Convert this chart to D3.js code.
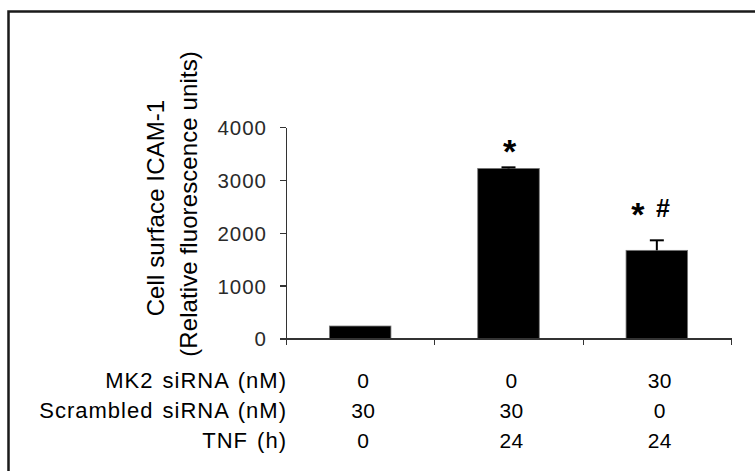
<!DOCTYPE html>
<meta charset="utf-8">
<style>
body { margin: 0; background: #fff; }
text { font-family: "Liberation Sans", Arial, sans-serif; }
.axis path, .axis line { stroke: #333; stroke-width: 1.3; shape-rendering: crispEdges; }
.axis text { font-size: 20.5px; fill: #2a2a2a; letter-spacing: 1px; font-family: "Liberation Sans", Arial, sans-serif; }
.bar { fill: #000; stroke: #777; stroke-width: 0.8; }
.err { stroke: #000; stroke-width: 2; fill: none; }
.rowlab { font-size: 22px; fill: #000; letter-spacing: 1px; word-spacing: 2px; }
.val { font-size: 21px; fill: #000; letter-spacing: 0.3px; }
.ytitle { font-size: 24px; fill: #000; letter-spacing: 0.1px; }
.mark { font-size: 34px; font-weight: bold; fill: #000; }
</style>
<body>
<script src="https://cdn.jsdelivr.net/npm/d3@7"></script>
<script>

// data
var groups = ["g1", "g2", "g3"];
var means = [236, 3217, 1667];
var errors = [0, 20, 190];
var yTicks = [0, 1000, 2000, 3000, 4000];

// condition table below the axis
var rowNames = ["MK2 siRNA (nM)", "Scrambled siRNA (nM)", "TNF (h)"];
var mk2 = ["0", "0", "30"];
var scrambled = ["30", "30", "0"];
var tnf = ["0", "24", "24"];

// significance marks (value = where the mark sits, in data units)
var starLevel = [null, 3600, 2410];
var hashLevel = [null, null, 2440];

var width = 755, height = 471;
var plot = {left: 286, right: 731, top: 127, bottom: 338.5};

var svg = d3.select("body").append("svg")
    .attr("width", width)
    .attr("height", height);

// outer frame (runs off the right and bottom of the picture)
svg.append("rect")
    .attr("x", 8.5).attr("y", 11.5)
    .attr("width", 800).attr("height", 500)
    .attr("fill", "none")
    .attr("stroke", "#1a1a1a")
    .attr("stroke-width", 2.5);

var x = d3.scaleBand()
    .domain(groups)
    .range([plot.left, plot.right])
    .paddingInner(0.585)
    .paddingOuter(0.2925);

var xEdge = d3.scaleLinear()
    .domain([0, groups.length])
    .range([plot.left, plot.right]);

var y = d3.scaleLinear()
    .domain([0, 4000])
    .range([plot.bottom, plot.top]);

// bars
svg.selectAll(".bar")
    .data(groups)
  .enter().append("rect")
    .attr("class", "bar")
    .attr("x", function(d) { return x(d); })
    .attr("width", x.bandwidth())
    .attr("y", function(d, i) { return y(means[i]); })
    .attr("height", function(d, i) { return y(0) - y(means[i]); });

// error bars (upper only)
var cx = function(d) { return x(d) + x.bandwidth() / 2; };
var withErr = groups.filter(function(d, i) { return errors[i] > 0; });
svg.selectAll(".errv")
    .data(withErr)
  .enter().append("line")
    .attr("class", "err")
    .attr("x1", cx).attr("x2", cx)
    .attr("y1", function(d) { return y(means[groups.indexOf(d)]); })
    .attr("y2", function(d) { var i = groups.indexOf(d); return y(means[i] + errors[i]); });
svg.selectAll(".errc")
    .data(withErr)
  .enter().append("line")
    .attr("class", "err")
    .attr("x1", function(d) { return cx(d) - 7; })
    .attr("x2", function(d) { return cx(d) + 7; })
    .attr("y1", function(d) { var i = groups.indexOf(d); return y(means[i] + errors[i]); })
    .attr("y2", function(d) { var i = groups.indexOf(d); return y(means[i] + errors[i]); });

// y axis
var yAxis = svg.append("g")
    .attr("class", "axis")
    .attr("transform", "translate(" + plot.left + ",0)")
    .call(d3.axisLeft(y).tickValues(yTicks).tickFormat(d3.format("d"))
      .tickSize(6).tickPadding(13).tickSizeOuter(0));
yAxis.selectAll("text").attr("dy", "0.36em");

// x axis: line with ticks at the group boundaries
svg.append("g")
    .attr("class", "axis")
    .attr("transform", "translate(0," + plot.bottom + ")")
    .call(d3.axisBottom(xEdge).tickValues(d3.range(groups.length + 1))
      .tickSize(6).tickSizeOuter(0).tickFormat(""));

// y axis title
svg.append("text")
    .attr("class", "ytitle")
    .attr("transform", "translate(164,208) rotate(-90)")
    .attr("text-anchor", "middle")
    .text("Cell surface ICAM-1");
svg.append("text")
    .attr("class", "ytitle")
    .attr("transform", "translate(197,204) rotate(-90)")
    .attr("text-anchor", "middle")
    .text("(Relative fluorescence units)");

// condition table
var rows = [mk2, scrambled, tnf];
var rowY = d3.scalePoint().domain(rowNames).range([388, 448]);
svg.selectAll(".rowlab")
    .data(rowNames)
  .enter().append("text")
    .attr("class", "rowlab")
    .attr("x", plot.left + 1)
    .attr("y", function(d) { return rowY(d); })
    .attr("text-anchor", "end")
    .text(function(d) { return d; });

rows.forEach(function(vals, r) {
  svg.selectAll(".val" + r)
      .data(vals)
    .enter().append("text")
      .attr("class", "val")
      .attr("x", function(d, i) { return cx(groups[i]) + 3; })
      .attr("y", rowY(rowNames[r]))
      .attr("text-anchor", "middle")
      .text(function(d) { return d; });
});

// significance marks
svg.selectAll(".star")
    .data(groups.filter(function(d, i) { return starLevel[i] != null; }))
  .enter().append("text")
    .attr("class", "mark")
    .attr("text-anchor", "middle")
    .attr("x", function(d) {
      var i = groups.indexOf(d);
      return cx(d) + (hashLevel[i] != null ? -19 : 1);
    })
    .attr("y", function(d) { return y(starLevel[groups.indexOf(d)]) + 15; })
    .text("*");

svg.selectAll(".hash")
    .data(groups.filter(function(d, i) { return hashLevel[i] != null; }))
  .enter().append("text")
    .attr("class", "mark")
    .style("font-size", "25px")
    .attr("text-anchor", "middle")
    .attr("x", function(d) { return cx(d) + 6; })
    .attr("y", function(d) { return y(hashLevel[groups.indexOf(d)]) + 8; })
    .text("#");

</script>
</body>
